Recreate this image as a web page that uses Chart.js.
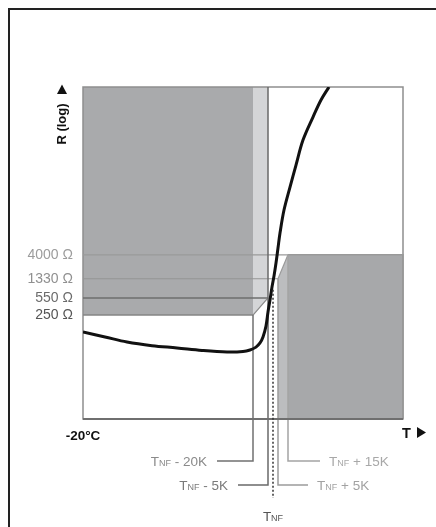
<!DOCTYPE html>
<html>
<head>
<meta charset="utf-8">
<script src="https://cdn.jsdelivr.net/npm/chart.js@4"></script>
<style>
  body { margin: 0; background: #fff; }
  canvas { display: block; }
</style>
</head>
<body>
<canvas id="grafico" width="436" height="527"></canvas>
<script>
// PTC sensor: temperature in °C, resistance in ohms (log axis)
const tNF = 170;
const tMin = -20;
const tMax = 300;
const rMin = 2.08;
const rMax = 9.1e6;

const curveT = [-20, 2, 24, 49, 74, 99, 124, 140, 147, 153, 157, 160, 163, 165, 167, 169, 171, 173, 175, 177, 181, 187, 193, 200, 210, 218, 226];
const curveR = [114, 91, 72, 61, 55, 49, 45.5, 46.5, 50, 57, 69, 91, 151, 287, 500, 908, 1507, 2742, 5470, 10900, 31500, 90800, 250000, 790000, 2280000, 5000000, 9100000];

const rTicks = [250, 550, 1330, 4000];
const rTickColors = ['#555555', '#6b6b6b', '#909090', '#9c9c9c'];

// tolerance points around TNF, in K
const markerK = [-20, -5, 5, 15];
const markerText = [' - 20K', ' - 5K', ' + 5K', ' + 15K'];
const markerColors = ['#8a8a8a', '#7a7a7a', '#a2a2a2', '#a8a8a8'];

const FONT = '"Liberation Sans", Arial, sans-serif';

function line(ctx, pts, color, w) {
  ctx.beginPath();
  ctx.moveTo(pts[0][0], pts[0][1]);
  for (let i = 1; i < pts.length; i++) ctx.lineTo(pts[i][0], pts[i][1]);
  ctx.strokeStyle = color;
  ctx.lineWidth = w;
  ctx.stroke();
}

function poly(ctx, pts, color) {
  ctx.beginPath();
  ctx.moveTo(pts[0][0], pts[0][1]);
  for (let i = 1; i < pts.length; i++) ctx.lineTo(pts[i][0], pts[i][1]);
  ctx.closePath();
  ctx.fillStyle = color;
  ctx.fill();
}

// "TNF" with small-cap NF, followed by the rest of the label
function tnfLabel(ctx, rest, x, y, align, color) {
  const big = '13.5px ' + FONT, small = '9px ' + FONT;
  ctx.font = big;
  const wT = ctx.measureText('T').width;
  const wRest = ctx.measureText(rest).width;
  ctx.font = small;
  const wNF = ctx.measureText('NF').width;
  const total = wT + wNF + wRest;
  let x0 = x;
  if (align === 'right') x0 = x - total;
  if (align === 'center') x0 = x - total / 2;
  ctx.fillStyle = color;
  ctx.textAlign = 'left';
  ctx.textBaseline = 'alphabetic';
  ctx.font = big;
  ctx.fillText('T', x0, y);
  ctx.font = small;
  ctx.fillText('NF', x0 + wT, y);
  ctx.font = big;
  ctx.fillText(rest, x0 + wT + wNF, y);
}

const zones = {
  id: 'zones',
  beforeDraw(chart) {
    const { ctx, width, height } = chart;
    ctx.save();
    ctx.fillStyle = '#fff';
    ctx.fillRect(0, 0, width, height);
    // outer frame
    line(ctx, [[8, 9], [width, 9]], '#222', 2);
    line(ctx, [[9, 8], [9, height]], '#222', 2);
    ctx.restore();
  },
  beforeDatasetsDraw(chart) {
    const { ctx, chartArea: a, scales: { x, y } } = chart;
    const X = t => x.getPixelForValue(t);
    const Y = r => y.getPixelForValue(r);
    const xs = markerK.map(k => X(tNF + k));
    const ys = rTicks.map(r => Y(r));
    const [xL1, xL2, xR1, xR2] = xs;
    const [y250, y550, y1330, y4000] = ys;
    ctx.save();

    // R too high below TNF - 20K / TNF - 5K
    ctx.fillStyle = '#a9aaac';
    ctx.fillRect(a.left, a.top, xL1 - a.left, y250 - a.top);
    poly(ctx, [[xL1, a.top], [xL2, a.top], [xL2, y550], [xL1, y250]], '#d4d5d7');

    // R too low above TNF + 5K / TNF + 15K
    ctx.fillStyle = '#a7a8aa';
    ctx.fillRect(xR2, y4000, a.right - xR2, a.bottom - y4000);
    poly(ctx, [[xR1, y1330], [xR2, y4000], [xR2, a.bottom], [xR1, a.bottom]], '#bcbdbf');

    // plot frame
    ctx.strokeStyle = '#8e8e8e';
    ctx.lineWidth = 1.5;
    ctx.strokeRect(a.left, a.top, a.right - a.left, a.bottom - a.top);

    // resistance levels
    line(ctx, [[a.left, y4000], [xR2, y4000]], '#9a9a9a', 1.2);
    line(ctx, [[a.left, y1330], [xR1, y1330]], '#959595', 1.2);
    line(ctx, [[a.left, y550], [xL2, y550]], '#6e6e6e', 1.5);
    line(ctx, [[a.left, y250], [xL1, y250]], '#858585', 1.5);
    line(ctx, [[xL1, y250], [xL2, y550]], '#888', 1.2);
    line(ctx, [[xR1, y1330], [xR2, y4000]], '#9a9a9a', 1.2);
    line(ctx, [[xR2, y4000], [a.right, y4000], [a.right, a.bottom]], '#999', 1.5);

    // tolerance markers with leaders
    const from = [y250, a.top, y1330, y4000];
    const rowY = [461, 485, 485, 461];
    const lead = [-36, -30, 30, 32];
    const lineCol = ['#707070', '#6a6a6a', '#9c9c9c', '#a4a4a4'];
    for (let i = 0; i < xs.length; i++) {
      line(ctx, [[xs[i], from[i]], [xs[i], rowY[i]], [xs[i] + lead[i], rowY[i]]], lineCol[i], 1.5);
      const right = lead[i] < 0;
      const tx = xs[i] + lead[i] + (right ? -10 : 9);
      tnfLabel(ctx, markerText[i], tx, rowY[i] + 5, right ? 'right' : 'left', markerColors[i]);
    }

    // temperature axis line
    line(ctx, [[a.left, a.bottom], [a.right, a.bottom]], '#6f6f6f', 2);

    // axis titles with arrow heads
    ctx.fillStyle = '#111';
    ctx.font = 'bold 14.5px ' + FONT;
    ctx.textAlign = 'left';
    ctx.textBaseline = 'alphabetic';
    ctx.fillText('T', 402, 438);
    poly(ctx, [[417, 427], [426, 432.5], [417, 438]], '#111');
    poly(ctx, [[62, 84.5], [67, 94], [57, 94]], '#111');
    ctx.fillStyle = '#111';
    ctx.translate(62, 124);
    ctx.rotate(-Math.PI / 2);
    ctx.font = 'bold 13px ' + FONT;
    ctx.textAlign = 'center';
    ctx.textBaseline = 'middle';
    ctx.fillText('R (log)', 0, 0);
    ctx.restore();
  },
  afterDatasetsDraw(chart) {
    const { ctx, scales: { x, y } } = chart;
    const xT = x.getPixelForValue(tNF);
    ctx.save();
    ctx.setLineDash([2, 2]);
    line(ctx, [[xT, y.getPixelForValue(800)], [xT, 498]], '#333', 1.5);
    ctx.setLineDash([]);
    tnfLabel(ctx, '', xT, 521, 'center', '#555');
    ctx.restore();
  }
};

new Chart(document.getElementById('grafico'), {
  type: 'line',
  data: {
    datasets: [{
      data: curveT.map((t, i) => ({ x: t, y: curveR[i] })),
      borderColor: '#111',
      borderWidth: 3,
      pointRadius: 0,
      tension: 0.35,
      fill: false
    }]
  },
  options: {
    responsive: false,
    animation: false,
    layout: { padding: { left: 0, top: 87, right: 33, bottom: 78 } },
    plugins: { legend: { display: false }, tooltip: { enabled: false } },
    scales: {
      x: {
        type: 'linear',
        min: tMin,
        max: tMax,
        grid: { display: false, drawTicks: false },
        border: { display: false },
        afterBuildTicks: s => { s.ticks = [{ value: tMin }]; },
        afterFit: s => { s.height = 30; },
        ticks: {
          callback: v => v + '°C',
          color: '#111',
          font: { family: FONT, size: 13.5, weight: 'bold' },
          padding: 9,
          maxRotation: 0,
          autoSkip: false
        }
      },
      y: {
        type: 'logarithmic',
        min: rMin,
        max: rMax,
        grid: { display: false, drawTicks: false },
        border: { display: false },
        afterBuildTicks: s => { s.ticks = rTicks.map(v => ({ value: v })); },
        afterFit: s => { s.width = 83; },
        ticks: {
          callback: v => v + ' Ω',
          color: c => rTickColors[c.index],
          font: { family: FONT, size: 14 },
          padding: 10,
          autoSkip: false
        }
      }
    }
  },
  plugins: [zones]
});
</script>
</body>
</html>
